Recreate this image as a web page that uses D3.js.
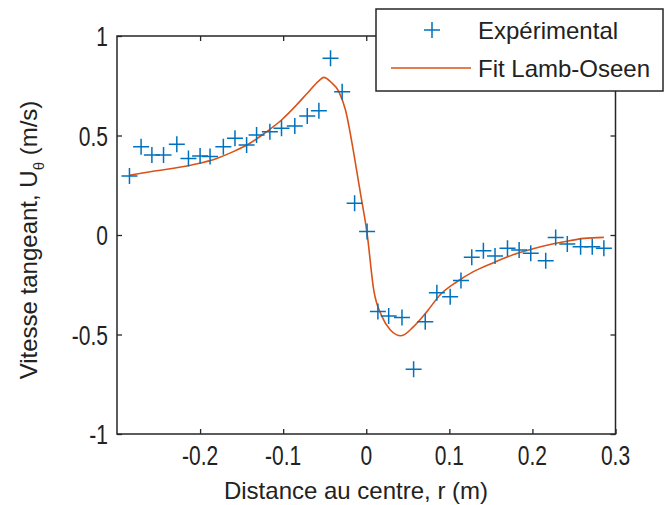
<!DOCTYPE html>
<html>
<head>
<meta charset="utf-8">
<script src="https://cdn.jsdelivr.net/npm/d3@7"></script>
<style>
  html, body { margin: 0; padding: 0; background: #fff; }
  svg { display: block; }
  text { font-family: "Liberation Sans", Arial, sans-serif; fill: #222; }
</style>
</head>
<body>
<svg id="chart" width="665" height="505"></svg>
<script>
// Experimental points (r in m, U_theta in m/s)
const expR = [-0.285, -0.271, -0.258, -0.244, -0.228, -0.214, -0.200, -0.188, -0.172, -0.158,
              -0.144, -0.132, -0.116, -0.102, -0.086, -0.071, -0.057, -0.043, -0.029, -0.014,
               0.001,  0.014,  0.027,  0.043,  0.057,  0.071,  0.085,  0.101,  0.114,  0.127,
               0.141,  0.155,  0.170,  0.184,  0.198,  0.216,  0.228,  0.242,  0.258,  0.272, 0.286];
const expU = [0.296, 0.444, 0.402, 0.402, 0.456, 0.385, 0.397, 0.394, 0.444, 0.486,
              0.452, 0.503, 0.519, 0.536, 0.548, 0.598, 0.625, 0.888, 0.720, 0.159,
              0.018, -0.385, -0.407, -0.414, -0.675, -0.436, -0.290, -0.310, -0.229, -0.112,
             -0.079, -0.105, -0.067, -0.075, -0.092, -0.129, -0.012, -0.045, -0.059, -0.059, -0.067];

// Lamb-Oseen fit curve
const fitR = [-0.285, -0.260, -0.210, -0.180, -0.160, -0.140, -0.120, -0.102, -0.084, -0.071,
              -0.057, -0.051, -0.043, -0.033, -0.025, -0.015, -0.007, 0.001, 0.009, 0.019,
               0.029, 0.042, 0.057, 0.073, 0.089, 0.109, 0.129, 0.153, 0.182, 0.210,
               0.238, 0.262, 0.286];
const fitU = [0.300, 0.318, 0.352, 0.385, 0.419, 0.461, 0.519, 0.578, 0.653, 0.712,
              0.775, 0.792, 0.770, 0.720, 0.628, 0.410, 0.210, 0.008, -0.276, -0.410,
             -0.477, -0.506, -0.460, -0.385, -0.300, -0.235, -0.184, -0.139, -0.092, -0.059,
             -0.034, -0.017, -0.012];

const xTicks = [-0.2, -0.1, 0, 0.1, 0.2, 0.3];
const yTicks = [-1, -0.5, 0, 0.5, 1];
const xTickLabels = ["-0.2", "-0.1", "0", "0.1", "0.2", "0.3"];
const yTickLabels = ["-1", "-0.5", "0", "0.5", "1"];
const seriesNames = ["Expérimental", "Fit Lamb-Oseen"];

const blue = "#0072BD", orange = "#D95319", axisCol = "#262626";
const svg = d3.select("#chart");
const L = 117, R = 615.5, T = 36, B = 434;
const x = d3.scaleLinear().domain([-0.3, 0.3]).range([L, R]);
const y = d3.scaleLinear().domain([-1, 1]).range([B, T]);

// plot background
svg.append("rect").attr("x", L).attr("y", T).attr("width", R - L).attr("height", B - T).attr("fill", "#fff");

// axes with inward ticks
const tk = 5;
svg.append("g").attr("transform", `translate(0,${B})`)
  .call(d3.axisBottom(x).tickValues(xTicks).tickSize(-tk).tickFormat(""));
svg.append("g").attr("transform", `translate(0,${T})`)
  .call(d3.axisTop(x).tickValues(xTicks).tickSize(-tk).tickFormat(""));
svg.append("g").attr("transform", `translate(${L},0)`)
  .call(d3.axisLeft(y).tickValues(yTicks).tickSize(-tk).tickFormat(""));
svg.append("g").attr("transform", `translate(${R},0)`)
  .call(d3.axisRight(y).tickValues(yTicks).tickSize(-tk).tickFormat(""));
svg.selectAll(".domain").remove();
svg.selectAll(".tick line").attr("stroke", axisCol).attr("stroke-width", 1.3);
svg.append("rect").attr("x", L).attr("y", T).attr("width", R - L).attr("height", B - T)
  .attr("fill", "none").attr("stroke", axisCol).attr("stroke-width", 1.5);

// tick labels (tall narrow glyphs)
const tickFont = 21, stretch = 1.35;
xTicks.forEach((v, i) => {
  svg.append("text")
    .attr("transform", `translate(${x(v)},${B + 31}) scale(1,${stretch})`)
    .attr("text-anchor", "middle").style("font-size", tickFont + "px")
    .text(xTickLabels[i]);
});
yTicks.forEach((v, i) => {
  svg.append("text")
    .attr("transform", `translate(${L - 9},${y(v) + 10}) scale(1,${stretch})`)
    .attr("text-anchor", "end").style("font-size", tickFont + "px")
    .text(yTickLabels[i]);
});

// axis labels
svg.append("text").attr("x", 356).attr("y", 499).attr("text-anchor", "middle")
  .style("font-size", "24px").text("Distance au centre, r (m)");
const yl = svg.append("text").attr("transform", "translate(37,240) rotate(-90)")
  .attr("text-anchor", "middle").style("font-size", "24px");
yl.append("tspan").text("Vitesse tangeant, U");
yl.append("tspan").attr("dy", 7).style("font-size", "15px").text("θ");
yl.append("tspan").attr("dy", -7).text(" (m/s)");

// fit line
const pts = fitR.map((r, i) => [r, fitU[i]]);
svg.append("path").datum(pts)
  .attr("d", d3.line().x(d => x(d[0])).y(d => y(d[1])).curve(d3.curveMonotoneX))
  .attr("fill", "none").attr("stroke", orange).attr("stroke-width", 1.6);

// experimental markers
const ms = 8;
const plus = (g, cx, cy) => {
  g.append("path").attr("d", `M${cx - ms},${cy}H${cx + ms}M${cx},${cy - ms}V${cy + ms}`)
    .attr("stroke", blue).attr("stroke-width", 1.5).attr("fill", "none");
};
const mg = svg.append("g");
expR.forEach((r, i) => plus(mg, x(r), y(expU[i])));

// legend
const lg = svg.append("g");
lg.append("rect").attr("x", 376).attr("y", 9).attr("width", 287).attr("height", 82)
  .attr("fill", "#fff").attr("stroke", axisCol).attr("stroke-width", 1.5);
plus(lg, 432, 30);
lg.append("text").attr("x", 478).attr("y", 38.5).style("font-size", "24px").text(seriesNames[0]);
lg.append("line").attr("x1", 391).attr("x2", 471).attr("y1", 68).attr("y2", 68)
  .attr("stroke", orange).attr("stroke-width", 1.6);
lg.append("text").attr("x", 478).attr("y", 76.5).style("font-size", "24px").text(seriesNames[1]);
</script>
</body>
</html>
